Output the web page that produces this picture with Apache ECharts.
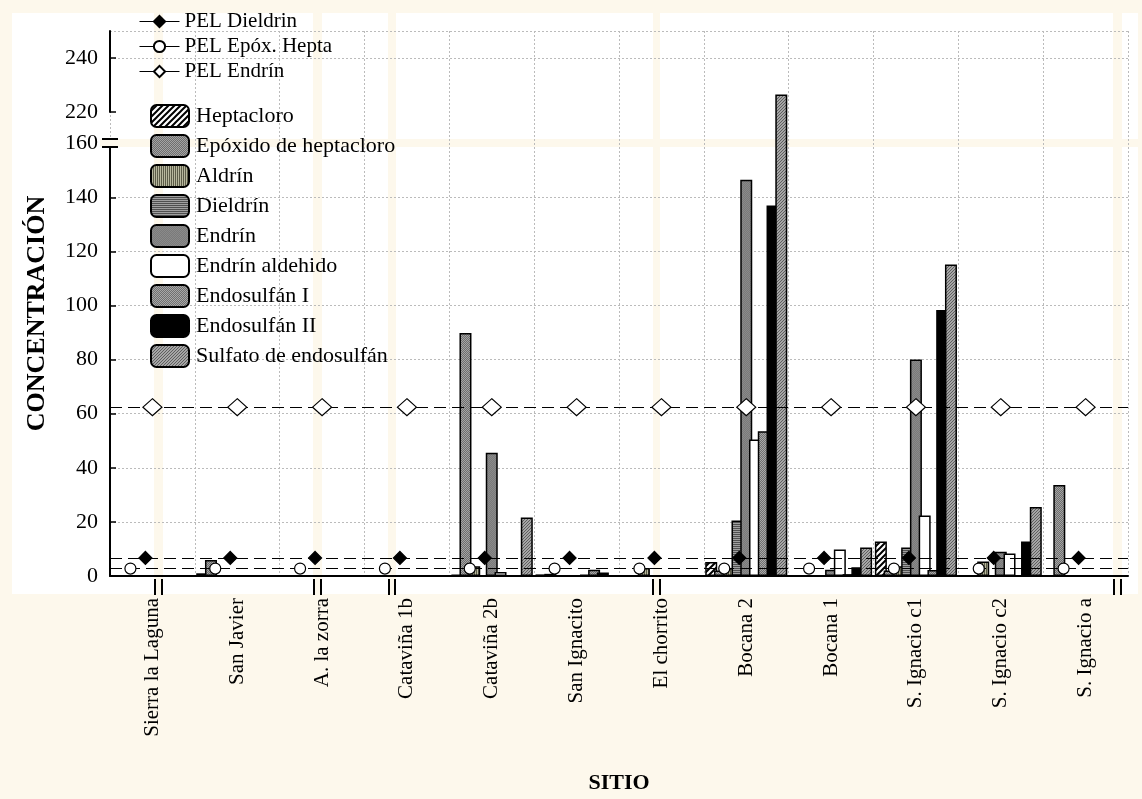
<!DOCTYPE html>
<html><head><meta charset="utf-8">
<script src="https://cdn.jsdelivr.net/npm/echarts@6/dist/echarts.min.js"></script>
<style>
html,body{margin:0;padding:0;background:#fdf8ec;}
#wrap{position:relative;width:1142px;height:799px;overflow:hidden;}
.panel{position:absolute;background:#fff;}
.stripe{position:absolute;background:#fdf8ec;}
#chart{position:absolute;left:0;top:0;width:1142px;height:799px;}
</style></head><body>
<div id="wrap">
<div class="panel" style="left:12px;top:13px;width:1126px;height:581px"></div>
<div class="stripe" style="left:154px;top:13px;width:9px;height:581px"></div>
<div class="stripe" style="left:313px;top:13px;width:9px;height:581px"></div>
<div class="stripe" style="left:388px;top:13px;width:8px;height:581px"></div>
<div class="stripe" style="left:653px;top:13px;width:7px;height:581px"></div>
<div class="stripe" style="left:1113px;top:13px;width:9px;height:581px"></div>
<div class="stripe" style="left:100px;top:139px;width:1038px;height:8px"></div>
<div id="chart"></div>
</div>
<script>
// ---- data ----
const sites = ['Sierra la Laguna','San Javier','A. la zorra','Cataviña 1b','Cataviña 2b','San Ignacito','El chorrito','Bocana 2','Bocana 1','S. Ignacio c1','S. Ignacio c2','S. Ignacio a'];
const heptacloro   = [null, 1,   null, null, 0.5,  0.6, null, 5.2,   null, 12.8,  null, null];
const epoxido      = [null, 5.9, null, null, 89.8, 0.8, null, 2,     null, 2,     null, 33.6];
const aldrin       = [null, null,null, null, 3.6,  null, 3,   3,     null, 3.6,   5.4,  null];
const dieldrin     = [null, null,null, null, null, null, null, 20.5, null, 10.5,  null, null];
const endrin       = [null, null,null, null, 45.6, null, null, 146.5, 2.3, 80,    9,    null];
const endrinAld    = [null, null,null, null, 1.5,  0.5, null, 50.5,  9.8,  22.4,  8.3,  null];
const endosulfanI  = [null, null,null, null, null, 2.3, null, 53.5,  0.7,  2.2,   null, null];
const endosulfanII = [null, null,null, null, null, 1.3, null, 137,   3.2,  98.3,  12.8, null];
const sulfato      = [null, null,null, null, 21.6, null, null, 226.5, 10.5, 115.2, 25.5, null];
const pelDieldrin  = [6.67,6.67,6.67,6.67,6.67,6.67,6.67,6.67,6.67,6.67,6.67,6.67];
const pelEpoxHepta = [2.74,2.74,2.74,2.74,2.74,2.74,2.74,2.74,2.74,2.74,2.74,2.74];
const pelEndrin    = [62.4,62.4,62.4,62.4,62.4,62.4,62.4,62.4,62.4,62.4,62.4,62.4];
const yTicks = {min:0, max:250, interval:20, breakStart:160, breakEnd:220};

// ---- fill patterns ----
function pattern(w,h,draw){const c=document.createElement('canvas');c.width=w;c.height=h;const g=c.getContext('2d');draw(g,w,h);return {image:c,repeat:'repeat'};}
function checker(a,b){return pattern(2,2,(g)=>{g.fillStyle=a;g.fillRect(0,0,2,2);g.fillStyle=b;g.fillRect(0,0,1,1);g.fillRect(1,1,1,1);});}
const fillHepta = pattern(6,6,(g)=>{g.fillStyle='#fff';g.fillRect(0,0,6,6);g.strokeStyle='#000';g.lineWidth=2;g.beginPath();g.moveTo(-1,7);g.lineTo(7,-1);g.moveTo(-4,4);g.lineTo(4,-4);g.moveTo(2,10);g.lineTo(10,2);g.stroke();});
const fillEpox = checker('#6e6e6e','#a4a4a4');
const fillAldrin = pattern(2,2,(g)=>{g.fillStyle='#b8b89e';g.fillRect(0,0,2,2);g.fillStyle='#5c5c48';g.fillRect(0,0,1,2);});
const fillDieldrin = pattern(2,2,(g)=>{g.fillStyle='#a0a0a0';g.fillRect(0,0,2,2);g.fillStyle='#505050';g.fillRect(0,0,2,1);});
const fillEndrin = checker('#7a7a7a','#8a8a8a');
const fillEndoI = checker('#707070','#a8a8a8');
const fillSulfato = pattern(3,3,(g)=>{g.fillStyle='#a6a6a6';g.fillRect(0,0,3,3);g.fillStyle='#5e5e5e';g.fillRect(0,2,1,1);g.fillRect(1,1,1,1);g.fillRect(2,0,1,1);});

const barDefs = [
  {name:'Heptacloro', data:heptacloro, fill:fillHepta},
  {name:'Epóxido de heptacloro', data:epoxido, fill:fillEpox},
  {name:'Aldrín', data:aldrin, fill:fillAldrin},
  {name:'Dieldrín', data:dieldrin, fill:fillDieldrin},
  {name:'Endrín', data:endrin, fill:fillEndrin},
  {name:'Endrín aldehido', data:endrinAld, fill:'#ffffff'},
  {name:'Endosulfán I', data:endosulfanI, fill:fillEndoI},
  {name:'Endosulfán II', data:endosulfanII, fill:'#000000'},
  {name:'Sulfato de endosulfán', data:sulfato, fill:fillSulfato}
];
const lineDefs = [
  {name:'PEL Dieldrin', data:pelDieldrin, symbol:'diamond', size:[13,13], offset:[-7,0], fill:'#000'},
  {name:'PEL Epóx. Hepta', data:pelEpoxHepta, symbol:'circle', size:11, offset:[-22,0], fill:'#fff'},
  {name:'PEL Endrín', data:pelEndrin, symbol:'diamond', size:[19,17], offset:[0,0], fill:'#fff'}
];

const FONT = 'Liberation Serif';
const CREAM = '#fdf8ec';

const series = [];
barDefs.forEach(d=>series.push({
  name:d.name, type:'bar', data:d.data, barWidth:12, barGap:'-27%',
  itemStyle:{color:d.fill, borderColor:'#000', borderWidth:1.5}, z:2
}));
lineDefs.forEach(d=>series.push({
  name:d.name, type:'line', data:d.data, symbol:d.symbol, symbolSize:d.size, symbolOffset:d.offset,
  showSymbol:true, itemStyle:{color:d.fill, borderColor:'#000', borderWidth:1.2},
  lineStyle:{opacity:0}, z:5,
  markLine:{silent:true, symbol:['none','none'], label:{show:false},
    lineStyle:{color:'#000', width:1, type:[12,6]}, data:[{yAxis:d.data[0]}]}
}));

const graphics = [];
function cut(x1,y1,x2,y2){graphics.push({type:'rect',shape:{x:x1,y:y1,width:x2-x1,height:y2-y1},style:{fill:CREAM},z:100});}
function seg(x1,y1,x2,y2){graphics.push({type:'line',shape:{x1,y1,x2,y2},style:{stroke:'#000',lineWidth:2},z:101});}
// y-axis break mark
cut(104,140,117,146); seg(102,139,118,139); seg(102,147,118,147);
// x-axis break marks
[[155,162],[314,321],[389,395],[653,660],[1114,1121]].forEach(p=>{cut(p[0]+1,580,p[1],593); seg(p[0],579,p[0],595); seg(p[1],579,p[1],595);});

const chart = echarts.init(document.getElementById('chart'), null, {renderer:'canvas'});
chart.setOption({
  animation:false,
  backgroundColor:'transparent',
  textStyle:{fontFamily:FONT},
  grid:{left:110, right:14, top:31, bottom:212},
  legend:[
    {data:lineDefs.map(d=>d.name), orient:'vertical', left:134, top:6, itemWidth:40, itemHeight:14, itemGap:4,
     textStyle:{fontSize:21, lineHeight:18, color:'#000', fontFamily:FONT}, lineStyle:{opacity:1, type:'solid', width:1, color:'#000'}},
    {data:barDefs.map(d=>d.name), orient:'vertical', left:145, top:99, itemWidth:38, itemHeight:22, itemGap:6,
     textStyle:{fontSize:22, lineHeight:22, color:'#000', fontFamily:FONT, padding:[0,0,0,2]}}
  ],
  xAxis:{type:'category', data:sites,
    axisLine:{lineStyle:{color:'#000', width:2}},
    axisTick:{inside:true, length:6, lineStyle:{color:'#000', width:1.5}},
    axisLabel:{rotate:90, margin:22, fontSize:21, color:'#000', fontFamily:FONT},
    splitLine:{show:true, lineStyle:{color:'#bbb', type:[2,2]}},
    name:'SITIO', nameLocation:'middle', nameGap:196,
    nameTextStyle:{fontWeight:'bold', fontSize:22, color:'#000', fontFamily:FONT}},
  yAxis:{type:'value', min:yTicks.min, max:yTicks.max, interval:yTicks.interval,
    breaks:[{start:yTicks.breakStart, end:yTicks.breakEnd, gap:'5.7%'}],
    breakArea:{show:false},
    axisLine:{show:true, lineStyle:{color:'#000', width:2}},
    axisTick:{show:true, inside:true, length:6, lineStyle:{color:'#000', width:1.5}},
    axisLabel:{fontSize:22, color:'#000', margin:12, fontFamily:FONT, showMaxLabel:false},
    splitLine:{show:true, lineStyle:{color:'#bbb', type:[2,2]}},
    name:'CONCENTRACIÓN', nameLocation:'middle', nameRotate:90, nameGap:60,
    nameTextStyle:{fontWeight:'bold', fontSize:26, color:'#000', fontFamily:FONT, padding:[0,20,0,0]}},
  graphic:graphics,
  series:series
});
</script>
</body></html>
